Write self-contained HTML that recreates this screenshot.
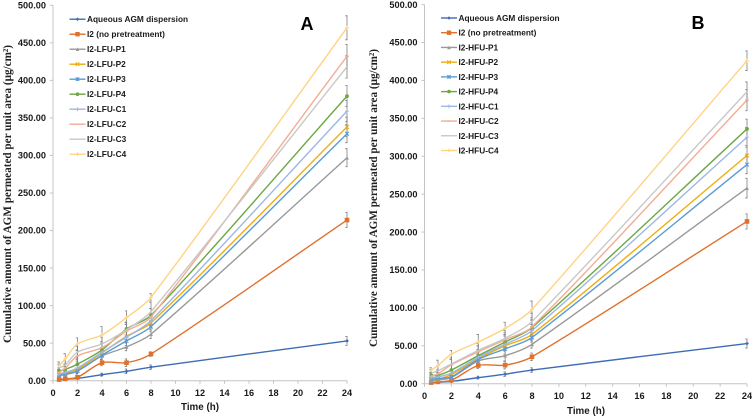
<!DOCTYPE html>
<html><head><meta charset="utf-8"><title>Cumulative AGM permeation</title>
<style>
html,body{margin:0;padding:0;background:#fff}
svg{display:block}
.sf{font-family:"Liberation Sans",sans-serif;font-weight:700;fill:#1a1a1a}
.ser{font-family:"Liberation Serif",serif;font-weight:700;fill:#222}
</style></head><body>
<svg id="chart" width="753" height="418" viewBox="0 0 753 418" xmlns="http://www.w3.org/2000/svg">
<g id="panelA"></g>
<g id="panelB"></g>
<text class="ser" font-size="11.5" textLength="298" lengthAdjust="spacingAndGlyphs" transform="translate(11,343) rotate(-90)">Cumulative amount of AGM permeated per unit area (μg/cm²)</text>
<text class="ser" font-size="11.5" textLength="298" lengthAdjust="spacingAndGlyphs" transform="translate(377,347) rotate(-90)">Cumulative amount of AGM permeated per unit area (μg/cm²)</text>
<text class="sf" font-size="9.8" text-anchor="middle" x="200" y="410">Time (h)</text>
<text class="sf" font-size="9.8" text-anchor="middle" x="586" y="414">Time (h)</text>
<text class="sf" font-size="18" text-anchor="middle" x="307" y="30" style="fill:#000">A</text>
<text class="sf" font-size="18" text-anchor="middle" x="698" y="29" style="fill:#000">B</text>
</svg>
<script>
// ---- data ----
const times = [0.5, 1, 2, 4, 6, 8, 24];
const xTickLabels = [0, 2, 4, 6, 8, 10, 12, 14, 16, 18, 20, 22, 24];
const yTickLabels = [0, 50, 100, 150, 200, 250, 300, 350, 400, 450, 500];
const namesA = ["Aqueous AGM dispersion", "I2 (no pretreatment)", "I2-LFU-P1", "I2-LFU-P2", "I2-LFU-P3", "I2-LFU-P4", "I2-LFU-C1", "I2-LFU-C2", "I2-LFU-C3", "I2-LFU-C4"];
const namesB = ["Aqueous AGM dispersion", "I2 (no pretreatment)", "I2-HFU-P1", "I2-HFU-P2", "I2-HFU-P3", "I2-HFU-P4", "I2-HFU-C1", "I2-HFU-C2", "I2-HFU-C3", "I2-HFU-C4"];

const valuesA = [
  [1, 2, 3, 8, 12.5, 18, 53],
  [1.5, 2.5, 4.5, 24, 24, 35.5, 214],
  [7, 8, 13, 33, 45, 62, 297],
  [8, 10, 15, 37, 59, 77, 338],
  [8, 9, 13, 34, 53, 72, 329],
  [13, 15, 22, 41, 69, 87, 379],
  [9, 11, 17, 38, 58, 80, 359],
  [11, 17, 33, 44, 66, 85, 432],
  [17, 21, 38, 49, 68, 92, 418],
  [20, 29, 49, 61, 84, 111, 470]
];
const errorsA = [
  [1, 1, 1, 2, 3, 3, 6],
  [1, 1, 2, 4, 5, 3, 10],
  [3, 3, 4, 5, 5, 6, 12],
  [3, 3, 5, 5, 6, 7, 13],
  [3, 3, 4, 5, 6, 6, 12],
  [4, 4, 6, 7, 8, 9, 14],
  [3, 4, 5, 6, 7, 8, 14],
  [4, 5, 7, 8, 9, 11, 16],
  [5, 6, 8, 9, 10, 12, 15],
  [5, 7, 8, 11, 9, 5, 16]
];
const valuesB = [
  [1, 2, 3, 8, 12.5, 18, 53],
  [1.5, 2.5, 4.5, 24, 24.5, 35.5, 214],
  [4, 5, 8, 30, 37, 52, 258],
  [5, 6, 12, 33, 50, 65, 301],
  [6, 7, 9, 32, 46, 61, 289],
  [11, 11, 18, 37, 55, 74, 336],
  [8, 9, 14, 35, 52, 70, 325],
  [10, 13, 25, 42, 58, 75, 374],
  [14, 17, 26, 44, 60, 82, 385],
  [18, 24, 39, 55, 73, 98, 426]
];
const errorsB = [
  [1, 1, 1, 2, 3, 3, 6],
  [1, 1, 2, 4, 5, 5, 10],
  [3, 3, 4, 6, 7, 5, 13],
  [3, 3, 5, 6, 7, 7, 13],
  [3, 3, 4, 6, 7, 6, 12],
  [4, 4, 6, 7, 8, 9, 13],
  [3, 4, 5, 6, 7, 8, 13],
  [4, 5, 7, 8, 9, 10, 14],
  [5, 6, 8, 9, 10, 11, 13],
  [3, 7, 5, 10, 8, 11, 13]
];

// ---- style ----
const colors = ["#3f6cb5", "#e0702c", "#999999", "#efac0c", "#5b9bd5", "#6aa843", "#9db6e2", "#f3ad95", "#c8c8c8", "#ffd382"];
const markers = ["diamond", "square", "triangle", "x", "star", "circle", "plus", "dash", "none", "plus"];
const NS = "http://www.w3.org/2000/svg";

function mk(parent, tag, attrs) {
  const el = document.createElementNS(NS, tag);
  for (const k in attrs) el.setAttribute(k, attrs[k]);
  parent.appendChild(el);
  return el;
}

function unit(a, b) {
  const dx = b[0] - a[0], dy = b[1] - a[1], l = Math.hypot(dx, dy) || 1;
  return [dx / l, dy / l];
}

// Length-limited smoothing: handles follow the neighbour chord, scaled by the segment's own length
function smoothPath(pts) {
  let d = "M" + pts[0][0].toFixed(2) + " " + pts[0][1].toFixed(2);
  const t = 0.3;
  for (let i = 0; i < pts.length - 1; i++) {
    const p0 = pts[Math.max(i - 1, 0)], p1 = pts[i], p2 = pts[i + 1], p3 = pts[Math.min(i + 2, pts.length - 1)];
    const len = Math.hypot(p2[0] - p1[0], p2[1] - p1[1]) * t;
    const u1 = unit(p0, p2), u2 = unit(p1, p3);
    const c1x = p1[0] + u1[0] * len, c1y = p1[1] + u1[1] * len;
    const c2x = p2[0] - u2[0] * len, c2y = p2[1] - u2[1] * len;
    d += "C" + c1x.toFixed(2) + " " + c1y.toFixed(2) + " " + c2x.toFixed(2) + " " + c2y.toFixed(2) + " " + p2[0].toFixed(2) + " " + p2[1].toFixed(2);
  }
  return d;
}

function drawMarker(g, type, x, y, c, s) {
  let el = null;
  if (type === "diamond") {
    el = mk(g, "path", {d: `M${x} ${y - s}L${x + s} ${y}L${x} ${y + s}L${x - s} ${y}Z`, fill: c});
  } else if (type === "square") {
    el = mk(g, "rect", {x: x - s, y: y - s, width: 2 * s, height: 2 * s, fill: c});
  } else if (type === "triangle") {
    el = mk(g, "path", {d: `M${x} ${y - s}L${x + s} ${y + s}L${x - s} ${y + s}Z`, fill: c});
  } else if (type === "circle") {
    el = mk(g, "circle", {cx: x, cy: y, r: s, fill: c});
  } else if (type === "x") {
    el = mk(g, "path", {d: `M${x - s} ${y - s}L${x + s} ${y + s}M${x - s} ${y + s}L${x + s} ${y - s}`, stroke: c, "stroke-width": 1, fill: "none"});
  } else if (type === "star") {
    el = mk(g, "path", {d: `M${x - s} ${y - s}L${x + s} ${y + s}M${x - s} ${y + s}L${x + s} ${y - s}M${x} ${y - s}V${y + s}`, stroke: c, "stroke-width": 1, fill: "none"});
  } else if (type === "plus") {
    el = mk(g, "path", {d: `M${x - s} ${y}H${x + s}M${x} ${y - s}V${y + s}`, stroke: c, "stroke-width": 1, fill: "none"});
  } else if (type === "dash") {
    el = mk(g, "path", {d: `M${x - s} ${y}H${x + s}`, stroke: c, "stroke-width": 1.4, fill: "none"});
  }
  if (el) {
    
    
  }
}

function drawPanel(root, p, names, values, errors) {
  const xScale = h => p.x0 + (p.x24 - p.x0) * h / 24;
  const yScale = v => p.y0 - (p.y0 - p.y500) * v / 500;

  // axes
  const yAxis = mk(root, "path", {d: `M${p.x0} ${p.y500}V${p.y0}`, stroke: "#c4c4c4", "stroke-width": 1, fill: "none"});
  
  
  const xAxis = mk(root, "path", {d: `M${p.x0} ${p.y0}H${p.x24}`, stroke: "#c4c4c4", "stroke-width": 1, fill: "none"});
  
  

  yTickLabels.forEach(v => {
    const y = yScale(v);
    const tick = mk(root, "path", {d: `M${p.x0 - 3} ${y}H${p.x0}`, stroke: "#c4c4c4", "stroke-width": 1});
    
    
    const t = mk(root, "text", {x: p.x0 - 7, y: y + 3.2, "text-anchor": "end", "font-size": 9.2, class: "sf"});
    t.textContent = v.toFixed(2);
    
    
  });
  xTickLabels.forEach(v => {
    const x = xScale(v);
    const tick = mk(root, "path", {d: `M${x} ${p.y0}V${p.y0 + 3}`, stroke: "#c4c4c4", "stroke-width": 1});
    
    
    const t = mk(root, "text", {x: x, y: p.y0 + 15.5, "text-anchor": "middle", "font-size": 9.2, class: "sf"});
    t.textContent = v;
    
    
  });

  // error bars
  values.forEach((vals, s) => {
    vals.forEach((v, i) => {
      const x = xScale(times[i]);
      const hi = yScale(v + errors[s][i]), lo = yScale(Math.max(v - errors[s][i], 0));
      const eb = mk(root, "path", {d: `M${x} ${hi}V${lo}M${x - 1.8} ${hi}H${x + 0.6}M${x - 1.8} ${lo}H${x + 0.6}`, stroke: "#808080", "stroke-width": 0.8, fill: "none"});
      
      
    });
  });

  // series
  values.forEach((vals, s) => {
    const g = mk(root, "g", {});
    
    
    const pts = vals.map((v, i) => [xScale(times[i]), yScale(v)]);
    mk(g, "path", {d: smoothPath(pts), stroke: colors[s], "stroke-width": 1.4, fill: "none"});
    pts.forEach(pt => drawMarker(g, markers[s], pt[0], pt[1], colors[s], s === 1 ? 2.3 : 1.9));
  });

  // legend
  names.forEach((name, s) => {
    const y = p.legY + s * p.legStep;
    const g = mk(root, "g", {});
    
    
    mk(g, "path", {d: `M${p.legX} ${y}H${p.legX + 16}`, stroke: colors[s], "stroke-width": 1.4, fill: "none"});
    drawMarker(g, markers[s], p.legX + 8, y, colors[s], s === 1 ? 2.2 : 1.8);
    const t = mk(g, "text", {x: p.legX + 17.5, y: y + 3, "font-size": 8.3, class: "sf"});
    t.textContent = name;
  });
}

drawPanel(document.getElementById("panelA"),
  {x0: 53, x24: 347, y0: 380.7, y500: 5.3, legX: 69.5, legY: 19.2, legStep: 15},
  namesA, valuesA, errorsA);
drawPanel(document.getElementById("panelB"),
  {x0: 424.5, x24: 747, y0: 383.7, y500: 4.6, legX: 441, legY: 18, legStep: 14.72},
  namesB, valuesB, errorsB);
</script>
</body></html>
